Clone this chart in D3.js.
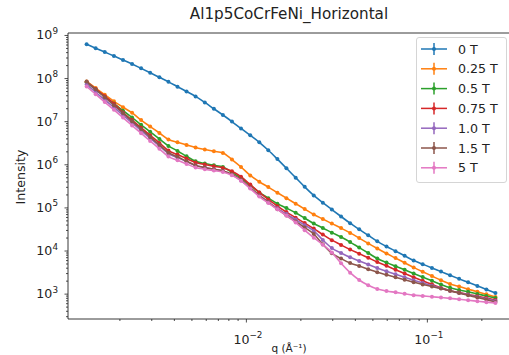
<!DOCTYPE html>
<html><head><meta charset="utf-8">
<script src="https://cdn.jsdelivr.net/npm/d3@7"></script>
<style>
body{margin:0;background:#fff}
svg{display:block}
text{font-family:"DejaVu Sans",sans-serif;fill:#222}
</style>
</head><body>
<svg id="c" width="509" height="355"></svg>
<script>
// ---------- data ----------
const q = [0.001318,0.001479,0.001660,0.001866,0.002094,0.002350,0.002636,0.002958,0.003327,0.003733,
  0.004188,0.004699,0.005272,0.005929,0.006653,0.007464,0.008375,0.009397,0.01057,0.01186,
  0.01330,0.01493,0.01675,0.01884,0.02113,0.02371,0.02661,0.02985,0.03357,0.03767,
  0.04227,0.04742,0.05321,0.05984,0.06714,0.07534,0.08453,0.09484,0.1067,0.1197,
  0.1343,0.1507,0.1690,0.1901,0.2133,0.2393];

const seriesNames = ["0 T","0.25 T","0.5 T","0.75 T","1.0 T","1.5 T","5 T"];
const seriesColors = ["#1f77b4","#ff7f0e","#2ca02c","#d62728","#9467bd","#8c564b","#e377c2"];

const i0T = [6.1e8,4.94e8,4.01e8,3.24e8,2.63e8,2.11e8,1.68e8,1.33e8,1.04e8,8.17e7,
  6.31e7,4.89e7,3.76e7,2.72e7,1.94e7,1.39e7,9.79e6,6.78e6,4.69e6,3.24e6,
  2.12e6,1.32e6,8.10e5,4.90e5,3.00e5,1.90e5,1.29e5,8.93e4,6.15e4,4.30e4,
  3.10e4,2.25e4,1.63e4,1.24e4,9.68e3,7.53e3,5.89e3,4.83e3,3.94e3,3.24e3,
  2.66e3,2.20e3,1.83e3,1.51e3,1.25e3,1.04e3];
const i025T = [8.34e7,5.85e7,4.10e7,2.88e7,2.11e7,1.56e7,1.06e7,7.50e6,5.32e6,3.76e6,
  3.26e6,2.82e6,2.44e6,2.20e6,2.00e6,1.83e6,1.29e6,8.65e5,5.50e5,3.93e5,
  2.96e5,2.20e5,1.64e5,1.22e5,9.14e4,6.84e4,5.38e4,4.21e4,3.31e4,2.56e4,
  1.94e4,1.46e4,1.11e4,8.51e3,6.67e3,5.19e3,4.06e3,3.22e3,2.56e3,2.04e3,
  1.68e3,1.46e3,1.27e3,1.11e3,9.64e2,8.38e2];
const i05T = [7.91e7,5.41e7,3.70e7,2.56e7,1.75e7,1.21e7,8.25e6,5.68e6,3.88e6,2.67e6,
  2.04e6,1.54e6,1.17e6,1.04e6,9.48e5,8.65e5,6.49e5,4.81e5,3.27e5,2.22e5,
  1.64e5,1.22e5,9.64e4,7.53e4,5.65e4,4.23e4,3.33e4,2.60e4,2.05e4,1.57e4,
  1.17e4,8.75e3,6.52e3,5.24e3,4.32e3,3.56e3,2.94e3,2.42e3,1.98e3,1.63e3,
  1.37e3,1.22e3,1.10e3,9.84e2,8.85e2,7.94e2];
const i075T = [8.12e7,5.56e7,3.80e7,2.55e7,1.59e7,1.06e7,7.06e6,4.71e6,3.12e6,2.08e6,
  1.68e6,1.36e6,1.10e6,9.89e5,8.99e5,8.20e5,6.89e5,5.15e5,3.38e5,2.22e5,
  1.53e5,1.07e5,7.78e4,5.79e4,4.33e4,3.22e4,2.35e4,1.74e4,1.35e4,1.05e4,
  8.47e3,6.78e3,5.43e3,4.42e3,3.59e3,2.92e3,2.39e3,1.98e3,1.64e3,1.36e3,
  1.17e3,1.06e3,9.57e2,8.71e2,7.87e2,7.14e2];
const i10T = [7.11e7,4.71e7,3.12e7,2.08e7,1.38e7,9.14e6,6.05e6,4.01e6,2.67e6,1.77e6,
  1.43e6,1.16e6,9.38e5,8.43e5,7.66e5,7.00e5,5.68e5,4.21e5,2.82e5,1.89e5,
  1.33e5,9.53e4,7.00e4,5.21e4,3.88e4,2.85e4,1.75e4,1.14e4,8.79e3,6.95e3,
  5.74e3,4.73e3,3.91e3,3.31e3,2.81e3,2.39e3,2.04e3,1.77e3,1.53e3,1.33e3,
  1.17e3,1.04e3,9.38e2,8.38e2,7.53e2,6.77e2];
const i15T = [8.34e7,5.47e7,3.59e7,2.35e7,1.54e7,1.00e7,6.59e6,4.32e6,2.83e6,1.86e6,
  1.49e6,1.18e6,9.42e5,8.43e5,7.66e5,7.00e5,5.89e5,4.44e5,2.88e5,1.89e5,
  1.31e5,9.08e4,6.49e4,4.71e4,3.40e4,2.42e4,1.40e4,8.65e3,6.49e3,5.11e3,
  4.35e3,3.68e3,3.14e3,2.73e3,2.39e3,2.09e3,1.84e3,1.63e3,1.46e3,1.31e3,
  1.16e3,1.03e3,9.14e2,8.13e2,7.21e2,6.41e2];
const i5T = [6.38e7,4.21e7,2.77e7,1.83e7,1.21e7,7.94e6,5.27e6,3.47e6,2.29e6,1.51e6,
  1.24e6,1.02e6,8.43e5,7.69e5,7.14e5,6.62e5,5.56e5,4.16e5,2.73e5,1.79e5,
  1.26e5,9.04e4,6.46e4,4.47e4,2.96e4,1.98e4,1.37e4,8.99e3,5.07e3,3.07e3,
  2.07e3,1.56e3,1.28e3,1.15e3,1.07e3,9.89e2,9.23e2,8.85e2,8.47e2,8.13e2,
  7.78e2,7.38e2,7.03e2,6.67e2,6.35e2,6.05e2];

const seriesValues = [i0T,i025T,i05T,i075T,i10T,i15T,i5T];
const yTickExps = [3,4,5,6,7,8,9];
const xTickExps = [-2,-1];
const titleText = "Al1p5CoCrFeNi_Horizontal";
const yLabel = "Intensity";
const xLabel = "q (Å⁻¹)";

// ---------- chart ----------
const svg = d3.select("#c");
const L=68, T=33, R=510, B=319;
const FS = 12.6;
const x = d3.scaleLog().domain([0.00104,0.288]).range([L,R]);
const y = d3.scaleLog().domain([258,1.11e9]).range([B,T]);

const yMinor=[], xMinor=[];
for (let e=2;e<=9;e++) for (let k=2;k<=9;k++){const v=k*Math.pow(10,e); if(v>=y.domain()[0]&&v<=y.domain()[1]) yMinor.push(v);}
for (let e=-4;e<=0;e++) for (let k=2;k<=9;k++){const v=k*Math.pow(10,e); if(v>=x.domain()[0]&&v<=x.domain()[1]) xMinor.push(v);}
const yMajor = yTickExps.map(e=>Math.pow(10,e));
const xMajor = xTickExps.map(e=>Math.pow(10,e));

function styleAxis(g){ g.select(".domain").remove(); g.selectAll("line").attr("stroke","#222").attr("stroke-width",0.8); g.selectAll("text").remove(); }

svg.append("g").attr("transform",`translate(${L},0)`).call(d3.axisLeft(y).tickValues(yMinor).tickSize(2).tickFormat("")).call(styleAxis);
svg.append("g").attr("transform",`translate(${L},0)`).call(d3.axisLeft(y).tickValues(yMajor).tickSize(3.5).tickFormat("")).call(styleAxis);
svg.append("g").attr("transform",`translate(0,${B})`).call(d3.axisBottom(x).tickValues(xMinor).tickSize(2).tickFormat("")).call(styleAxis);
svg.append("g").attr("transform",`translate(0,${B})`).call(d3.axisBottom(x).tickValues(xMajor).tickSize(3.5).tickFormat("")).call(styleAxis);

yTickExps.forEach(e=>{
  const t = svg.append("text").attr("x",58).attr("y",y(Math.pow(10,e))+4.5).attr("text-anchor","end").attr("font-size",FS);
  t.append("tspan").text("10");
  t.append("tspan").attr("dy",-5.5).attr("font-size",8.8).text(String(e));
});
xTickExps.forEach(e=>{
  const t = svg.append("text").attr("x",x(Math.pow(10,e))+2).attr("y",343.5).attr("text-anchor","middle").attr("font-size",FS);
  t.append("tspan").text("10");
  t.append("tspan").attr("dy",-5.5).attr("font-size",8.8).text("−"+Math.abs(e));
});

svg.append("line").attr("x1",L).attr("x2",L).attr("y1",T).attr("y2",B).attr("stroke","#222").attr("stroke-width",0.9);
svg.append("line").attr("x1",L).attr("x2",R).attr("y1",B).attr("y2",B).attr("stroke","#222").attr("stroke-width",0.9);
svg.append("line").attr("x1",L).attr("x2",R).attr("y1",T).attr("y2",T).attr("stroke","#222").attr("stroke-width",0.9);

const line = d3.line().curve(d3.curveMonotoneX).x(d=>x(d[0])).y(d=>y(d[1]));
seriesValues.forEach((vals,i)=>{
  const pts = q.map((qq,j)=>[qq,vals[j]]);
  const g = svg.append("g");
  g.append("path").attr("d",line(pts)).attr("fill","none").attr("stroke",seriesColors[i]).attr("stroke-width",1.6);
  g.selectAll("circle").data(pts).enter().append("circle")
    .attr("cx",d=>x(d[0])).attr("cy",d=>y(d[1])).attr("r",2).attr("fill",seriesColors[i]);
});

svg.append("text").attr("x",(L+R)/2).attr("y",19).attr("text-anchor","middle").attr("font-size",15.2).text(titleText);
svg.append("text").attr("transform","translate(25,177) rotate(-90)").attr("text-anchor","middle").attr("font-size",FS).text(yLabel);
svg.append("text").attr("x",(L+R)/2).attr("y",352).attr("text-anchor","middle").attr("font-size",10.5).text(xLabel);

const lg = svg.append("g");
lg.append("rect").attr("x",416.5).attr("y",37.5).attr("width",90).attr("height",145).attr("rx",2.5)
  .attr("fill","#fff").attr("fill-opacity",0.8).attr("stroke","#d0d0d0").attr("stroke-width",0.9);
seriesNames.forEach((n,i)=>{
  const cy = 49 + i*19.8;
  lg.append("line").attr("x1",421).attr("x2",447).attr("y1",cy).attr("y2",cy).attr("stroke",seriesColors[i]).attr("stroke-width",1.5);
  lg.append("line").attr("x1",434).attr("x2",434).attr("y1",cy-6).attr("y2",cy+6).attr("stroke",seriesColors[i]).attr("stroke-width",1.5);
  lg.append("circle").attr("cx",434).attr("cy",cy).attr("r",2).attr("fill",seriesColors[i]);
  lg.append("text").attr("x",458).attr("y",cy+4.5).attr("font-size",FS).text(n);
});
</script>
</body></html>
